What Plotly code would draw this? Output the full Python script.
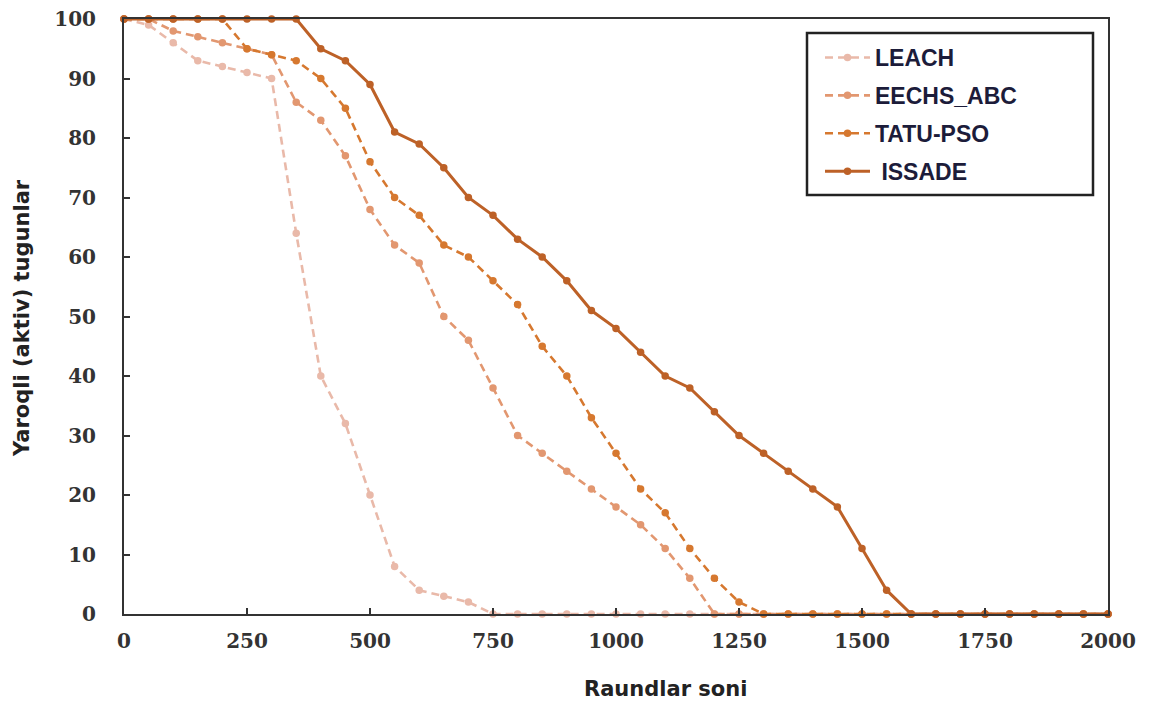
import plotly.graph_objects as go

rounds = list(range(0, 2001, 50))

leach = [100, 99, 96, 93, 92, 91, 90, 64, 40, 32, 20, 8, 4, 3, 2, 0,
         0, 0, 0, 0, 0, 0, 0, 0, 0, 0, 0, 0, 0, 0, 0, 0, 0, 0, 0, 0, 0, 0, 0, 0, 0]
eechs_abc = [100, 100, 98, 97, 96, 95, 94, 86, 83, 77, 68, 62, 59, 50, 46, 38,
             30, 27, 24, 21, 18, 15, 11, 6, 0, 0, 0, 0, 0, 0, 0, 0, 0, 0, 0, 0, 0, 0, 0, 0, 0]
tatu_pso = [100, 100, 100, 100, 100, 95, 94, 93, 90, 85, 76, 70, 67, 62, 60, 56,
            52, 45, 40, 33, 27, 21, 17, 11, 6, 2, 0, 0, 0, 0, 0, 0, 0, 0, 0, 0, 0, 0, 0, 0, 0]
issade = [100, 100, 100, 100, 100, 100, 100, 100, 95, 93, 89, 81, 79, 75, 70, 67,
          63, 60, 56, 51, 48, 44, 40, 38, 34, 30, 27, 24, 21, 18, 11, 4, 0, 0, 0, 0, 0, 0, 0, 0, 0]

series = [
    ("LEACH", leach, "#E9B9A9", "8px,5px"),
    ("EECHS_ABC", eechs_abc, "#E29770", "8px,5px"),
    ("TATU-PSO", tatu_pso, "#D6782F", "8px,5px"),
    ("\u00a0ISSADE", issade, "#BD6127", "solid"),
]

x_ticks = [0, 250, 500, 750, 1000, 1250, 1500, 1750, 2000]
y_ticks = list(range(0, 101, 10))

fig = go.Figure()
for i, (name, vals, color, dash) in enumerate(series):
    fig.add_trace(go.Scatter(
        x=rounds, y=vals, name=name, mode="lines+markers",
        line=dict(color=color, width=2.6 if dash != "solid" else 3, dash=dash),
        marker=dict(color=color, size=7.5, symbol="circle"),
        cliponaxis=False, legendgroup=f"g{i}",
    ))

# page offset of the figure inside the browser page (body margin)
OFF = 8
W, H = 1149 - OFF, 705 - OFF
L, R, T, B = 124 - OFF, 1149 - 1108, 19 - OFF, 705 - 614
pw, ph = W - L - R, H - T - B

def px_x(p):
    return (p - OFF - L) / pw

def px_y(p):
    return (H - B - (p - OFF)) / ph

fig.update_layout(
    width=W, height=H,
    margin=dict(l=L, r=R, t=T, b=B, autoexpand=False),
    paper_bgcolor="white", plot_bgcolor="white",
    showlegend=True,
    legend=dict(
        x=px_x(820), y=px_y(36), xanchor="left", yanchor="top",
        bgcolor="rgba(0,0,0,0)", borderwidth=0,
        font=dict(family="Liberation Sans", size=23, color="#1C1C3A", weight="bold"),
        itemwidth=45, tracegroupgap=5,
    ),
    shapes=[dict(type="rect", xref="paper", yref="paper",
                 x0=px_x(807), x1=px_x(1093), y0=px_y(195), y1=px_y(33),
                 line=dict(color="#222222", width=2.5), fillcolor="rgba(0,0,0,0)")],
    annotations=[
        dict(text="<b>Raundlar soni</b>", xref="paper", yref="paper",
             x=px_x(665), y=px_y(689), xanchor="center", yanchor="middle",
             showarrow=False, font=dict(family="DejaVu Sans", size=21, color="#222222")),
        dict(text="<b>Yaroqli (aktiv) tugunlar</b>", xref="paper", yref="paper",
             x=px_x(22), y=px_y(318), xanchor="center", yanchor="middle", textangle=-90,
             showarrow=False, font=dict(family="DejaVu Sans", size=21, color="#222222")),
    ],
)

fig.update_xaxes(
    range=[0, 2000], tickvals=x_ticks, ticktext=[str(v) for v in x_ticks],
    showgrid=False, zeroline=False, showline=True, linecolor="#333333", linewidth=2,
    mirror=True, ticks="inside", ticklen=6, tickwidth=2, tickcolor="#333333",
    tickfont=dict(family="DejaVu Serif", size=20, color="#333333", weight="bold"),
    ticklabelstandoff=8, automargin=False, ticklabeloverflow="allow",
)
fig.update_yaxes(
    range=[0, 100], tickvals=y_ticks, ticktext=[str(v) for v in y_ticks],
    showgrid=False, zeroline=False, showline=True, linecolor="#333333", linewidth=2,
    mirror=True, ticks="inside", ticklen=6, tickwidth=2, tickcolor="#333333",
    tickfont=dict(family="DejaVu Serif", size=20, color="#333333", weight="bold"),
    ticklabelstandoff=22, automargin=False, ticklabeloverflow="allow",
)

fig.write_html("out.html")
